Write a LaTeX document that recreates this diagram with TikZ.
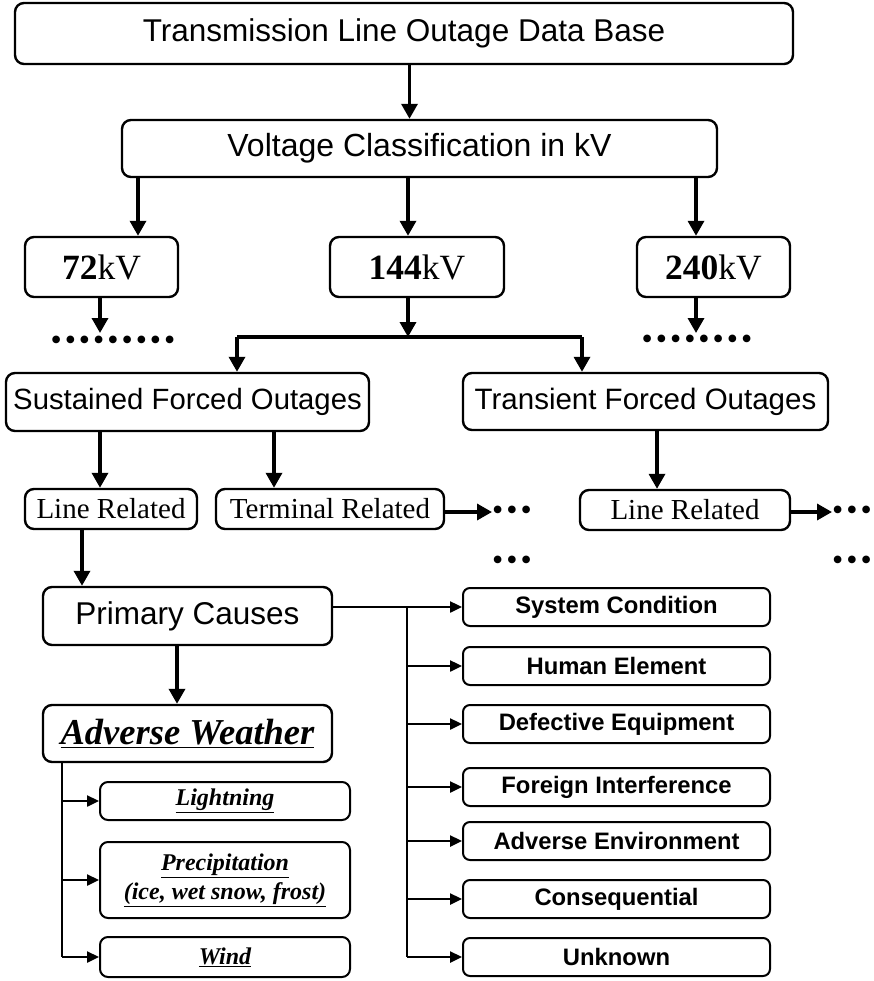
\documentclass[tikz,border=0pt]{standalone}
\usepackage{fontspec}
\setmainfont{Liberation Serif}
\setsansfont{Liberation Sans}
\usetikzlibrary{arrows.meta, positioning, calc}

\newcommand{\bdot}{\textbullet\hspace{3pt}}

\begin{document}
\begin{tikzpicture}[
    x = 1pt, y = -1pt,
    > = {Triangle[length=15pt, width=16pt]},
    box/.style={draw, line width=2.4pt, rounded corners=9pt, inner sep=0pt, align=center},
    head/.style={box, font=\sffamily\fontsize{31.5}{36}\selectfont},
    volt/.style={box, font=\rmfamily\fontsize{35.5}{40}\selectfont, minimum width=153pt, minimum height=60pt},
    rel/.style={box, font=\rmfamily\fontsize{29}{33}\selectfont, minimum height=40pt},
    cause/.style={box, line width=2pt, rounded corners=7pt, font=\sffamily\bfseries\fontsize{23.8}{27}\selectfont, minimum width=307pt, minimum height=38pt},
    sub/.style={box, line width=2pt, rounded corners=8pt, font=\rmfamily\bfseries\itshape\fontsize{24}{29}\selectfont, minimum width=250pt},
    fat/.style={line width=3.4pt, ->},
    thin/.style={line width=2.4pt, -{Triangle[length=12pt, width=11pt]}},
    dots/.style={font=\rmfamily\fontsize{32}{34}\selectfont, inner sep=0pt}
]

\useasboundingbox (0,0) rectangle (873,981);

% --- Top levels ---
\node[head, minimum width=778pt, minimum height=61pt] (db) at (404,33.5) {Transmission Line Outage Data Base};
\node[head, font=\sffamily\fontsize{32}{36}\selectfont, minimum width=595pt, minimum height=57pt] (vc) at (419.5,148.5) {Voltage Classification in kV};
\draw[fat] (db.south -| vc.north) ++(-10,0) coordinate (a0) -- (a0 |- vc.north);

% --- Voltage classes ---
\node[volt] (kv72) at (101.5,267) {\textbf{72}kV};
\node[volt, minimum width=174pt] (kv144) at (417,267) {\textbf{144}kV};
\node[volt] (kv240) at (713.5,267) {\textbf{240}kV};

\coordinate (c72) at (138,0);
\coordinate (c144) at (408,0);
\coordinate (c240) at (696,0);
\draw[fat] (vc.south -| c72) -- (kv72.north -| c72);
\draw[fat] (vc.south -| c144) -- (kv144.north -| c144);
\draw[fat] (vc.south -| c240) -- (kv240.north -| c240);

\node[dots] (d72) at (113,343) {\bdot\bdot\bdot\bdot\bdot\bdot\bdot\bdot\textbullet};
\node[dots] (d240) at (697,342) {\bdot\bdot\bdot\bdot\bdot\bdot\bdot\textbullet};
\draw[fat] (kv72.south -| 100,0) -- (100,333);
\draw[fat] (kv240.south -| c240) -- (696,333);

% --- Outage types ---
\node[head, font=\sffamily\fontsize{29.3}{34}\selectfont, minimum width=363pt, minimum height=58pt] (sfo) at (187.5,402) {Sustained Forced Outages};
\node[head, font=\sffamily\fontsize{29.5}{34}\selectfont, minimum width=365pt, minimum height=57pt] (tfo) at (645.5,401.5) {Transient Forced Outages};

\coordinate (bar) at (408,337);
\draw[fat] (kv144.south -| c144) -- (bar);
\draw[line width=3.4pt] (bar) -- (237,337) coordinate (barl);
\draw[line width=3.4pt] (bar) -- (582,337) coordinate (barr);
\draw[fat] (barl) -- (barl |- sfo.north);
\draw[fat] (barr) -- (barr |- tfo.north);

% --- Related ---
\node[rel, minimum width=172pt] (lr1) at (111,509) {Line Related};
\node[rel, minimum width=228pt] (tr) at (330,509) {Terminal Related};
\node[rel, minimum width=210pt] (lr2) at (685,510) {Line Related};

\draw[fat] (sfo.south -| 100,0) -- (lr1.north -| 100,0);
\draw[fat] (sfo.south -| 274,0) -- (tr.north -| 274,0);
\draw[fat] (tfo.south -| 657,0) -- (lr2.north -| 657,0);

\node[dots] (d1) at (512,513) {\bdot\bdot\textbullet};
\node[dots] (d2) at (852,513) {\bdot\bdot\textbullet};
\node[dots] (d3) at (512,563) {\bdot\bdot\textbullet};
\node[dots] (d4) at (852,563) {\bdot\bdot\textbullet};
\draw[fat] (tr.east |- 0,512) -- (d1.west |- 0,512);
\draw[fat] (lr2.east |- 0,512) -- (d2.west |- 0,512);

% --- Primary causes ---
\node[head, minimum width=289pt, minimum height=58pt] (pc) at (187.5,616) {Primary Causes};
\draw[fat] (lr1.south -| 82,0) -- (pc.north -| 82,0);

\node[cause] (sys) at (616.5,607) {System Condition};
\node[cause] (hum) at (616.5,666) {Human Element};
\node[cause] (def) at (616.5,724) {Defective Equipment};
\node[cause] (for) at (616.5,787) {Foreign Interference};
\node[cause] (env) at (616.5,841) {Adverse Environment};
\node[cause] (con) at (616.5,899) {Consequential};
\node[cause] (unk) at (616.5,957) {Unknown};

\coordinate (bus) at (407,607);
\draw[thin] (pc.east |- sys) -- (sys);
\draw[line width=2.8pt] (bus) -- (bus |- unk);
\draw[thin] (bus |- hum) -- (hum);
\draw[thin] (bus |- def) -- (def);
\draw[thin] (bus |- for) -- (for);
\draw[thin] (bus |- env) -- (env);
\draw[thin] (bus |- con) -- (con);
\draw[thin] (bus |- unk) -- (unk);

% --- Adverse weather ---
\node[box, font=\rmfamily\bfseries\itshape\fontsize{36.5}{40}\selectfont, minimum width=289pt, minimum height=57pt] (aw) at (187.5,733.5) {\underline{Adverse Weather}};
\draw[fat] (pc.south -| 177,0) -- (aw.north -| 177,0);

\node[sub, minimum height=38pt] (lgt) at (225,801) {\underline{Lightning}};
\node[sub, minimum height=76pt] (pre) at (225,880) {\underline{Precipitation}\\\underline{(ice, wet snow, frost)}};
\node[sub, minimum height=40pt] (wnd) at (225,957) {\underline{Wind}};

\coordinate (wbus) at (62,0);
\draw[line width=2.8pt] (aw.south -| wbus) -- (wbus |- wnd);
\draw[thin] (wbus |- lgt) -- (lgt);
\draw[thin] (wbus |- pre) -- (pre);
\draw[thin] (wbus |- wnd) -- (wnd);

\end{tikzpicture}
\end{document}
